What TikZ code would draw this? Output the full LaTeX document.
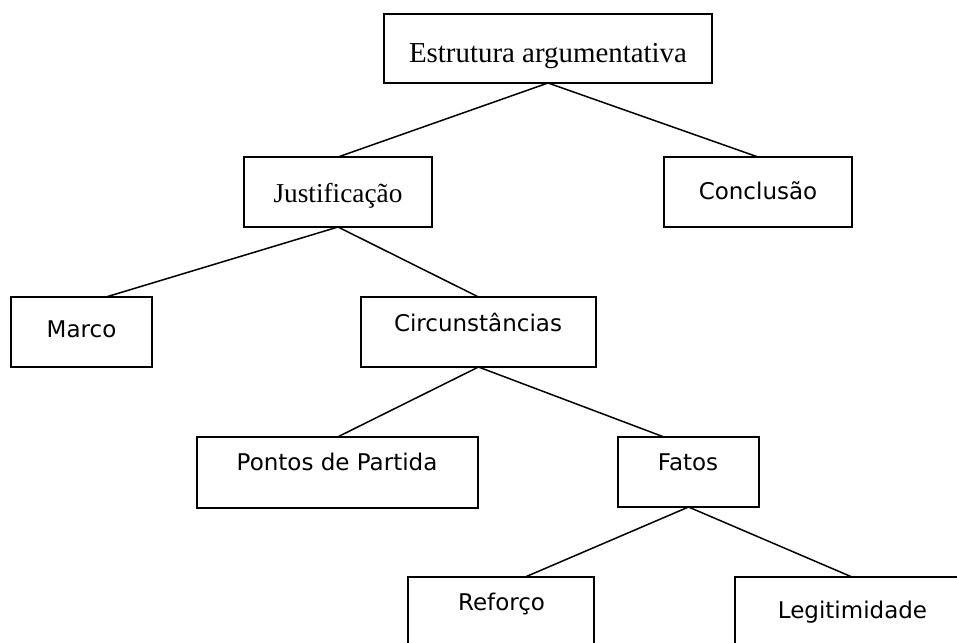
\documentclass[tikz,border=0pt]{standalone}
\usepackage{fontspec}
\setmainfont{Liberation Serif}
\newfontfamily\sansfam{DejaVu Sans}
\usetikzlibrary{calc}
\begin{document}
\begin{tikzpicture}[x=1pt,y=-1pt,
  boxnode/.style={draw=black,line width=1.6pt,rectangle,inner sep=0pt,outer sep=0pt},
  serifbig/.style={anchor=base,inner sep=0pt,font=\fontsize{28.9}{34}\selectfont},
  serifmid/.style={anchor=base,inner sep=0pt,font=\fontsize{27.3}{32}\selectfont},
  sanstext/.style={anchor=base,inner sep=0pt,font=\sansfam\fontsize{23}{28}\selectfont},
  conn/.style={draw=black,line width=1.5pt}]
\useasboundingbox (0,0) rectangle (957,642);
\clip (0,0) rectangle (957,642);
% boxes
\node[boxnode,minimum width=328pt,minimum height=69pt] (bE) at (548,48.5) {};
\node[boxnode,minimum width=188pt,minimum height=70pt] (bJ) at (338,192) {};
\node[boxnode,minimum width=188pt,minimum height=70pt] (bC) at (758,192) {};
\node[boxnode,minimum width=141pt,minimum height=70pt] (bM) at (81.5,332) {};
\node[boxnode,minimum width=235pt,minimum height=70pt] (bCi) at (478.5,332) {};
\node[boxnode,minimum width=281pt,minimum height=71pt] (bP) at (337.5,472.5) {};
\node[boxnode,minimum width=141pt,minimum height=70pt] (bF) at (688.5,472) {};
\node[boxnode,minimum width=186pt,minimum height=70pt] (bR) at (501,612) {};
\node[boxnode,minimum width=234pt,minimum height=70pt] (bL) at (852,612) {};
% texts
\node[serifbig] (tE) at (548,63) {Estrutura argumentativa};
\node[serifmid] (tJ) at (338,202) {Justificação};
\node[sanstext] (tC) at (758,199) {Conclusão};
\node[sanstext] (tM) at (81.5,337) {Marco};
\node[sanstext] (tCi) at (478,331) {Circunstâncias};
\node[sanstext] (tP) at (337,470) {Pontos de Partida};
\node[sanstext] (tF) at (688,470) {Fatos};
\node[sanstext] (tR) at (501.5,610) {Reforço};
\node[sanstext] (tL) at (852.5,618) {Legitimidade};
% connectors
\draw[conn] (bE.south) -- (bJ.north);
\draw[conn] (bE.south) -- (bC.north);
\draw[conn] (bJ.south) -- ($(bM.north west)!0.674!(bM.north east)$);
\draw[conn] (bJ.south) -- (bCi.north);
\draw[conn] (bCi.south) -- (bP.north);
\draw[conn] (bCi.south) -- ($(bF.north west)!0.326!(bF.north east)$);
\draw[conn] (bF.south) -- ($(bR.north west)!0.63!(bR.north east)$);
\draw[conn] (bF.south) -- (bL.north);
\end{tikzpicture}
\end{document}
